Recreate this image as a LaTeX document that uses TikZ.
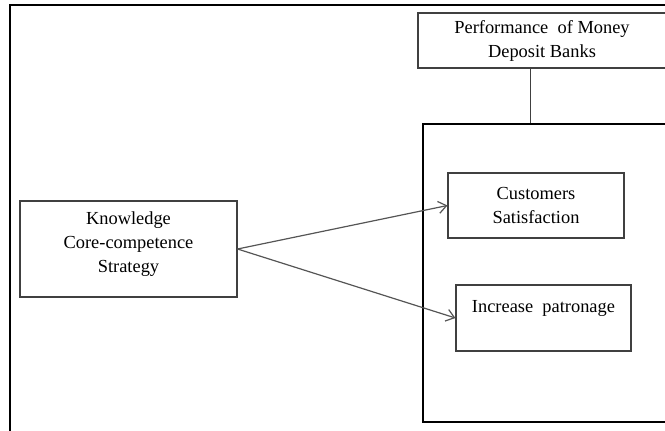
\documentclass[tikz,border=0pt]{standalone}
\usepackage{fontspec}
\setmainfont{Liberation Serif}
\usetikzlibrary{arrows.meta,positioning,calc}
\definecolor{boxline}{RGB}{64,64,64}
\definecolor{arrowgray}{RGB}{85,85,85}

\begin{document}
\begin{tikzpicture}[
  x=0.75pt,y=-0.75pt,
  every node/.style={font=\fontsize{13.8}{18}\selectfont},
  concept/.style={rectangle,draw=boxline,line width=0.8pt,align=center,inner sep=0pt},
  frame/.style={rectangle,draw=black,line width=1.8pt,inner sep=0pt},
  arrow/.style={-{Straight Barb[length=6pt,width=9pt]},arrowgray,line width=0.9pt},
]
\clip (0,0) rectangle (665,430);

% Outer frame
\draw[line width=1.1pt] (10,5) rectangle (720,470);

% Dependent variable
\node[concept,minimum width=186pt,minimum height=41.25pt] (perf) at (542,40.5)
      {Performance\ \ of Money\\Deposit Banks};

% Outcomes block
\node[frame,minimum width=200.25pt,minimum height=223.5pt] (outcomes) at (556.5,273) {};
\node[concept,minimum width=132pt,minimum height=48.75pt] (cs) at (536,205.5)
      {Customers\\Satisfaction};
\node[concept,minimum width=131.25pt,minimum height=49.5pt] (ip) at (543.5,318)
      {Increase\ \ patronage\\\mbox{}};

% Independent variable
\node[concept,minimum width=162.75pt,minimum height=72pt] (kcs) at (128.5,249)
      {Knowledge\\Core-competence\\Strategy\\[-8pt]\mbox{}};

% Link from performance to outcomes
\coordinate (link) at (530,0);
\draw[boxline,line width=0.6pt] (perf.south -| link) -- (outcomes.north -| link);

% Arrows from strategy to outcomes
\draw[arrow] (kcs.east) -- (cs.west);
\draw[arrow] (kcs.east) -- (ip.west);

\end{tikzpicture}
\end{document}
